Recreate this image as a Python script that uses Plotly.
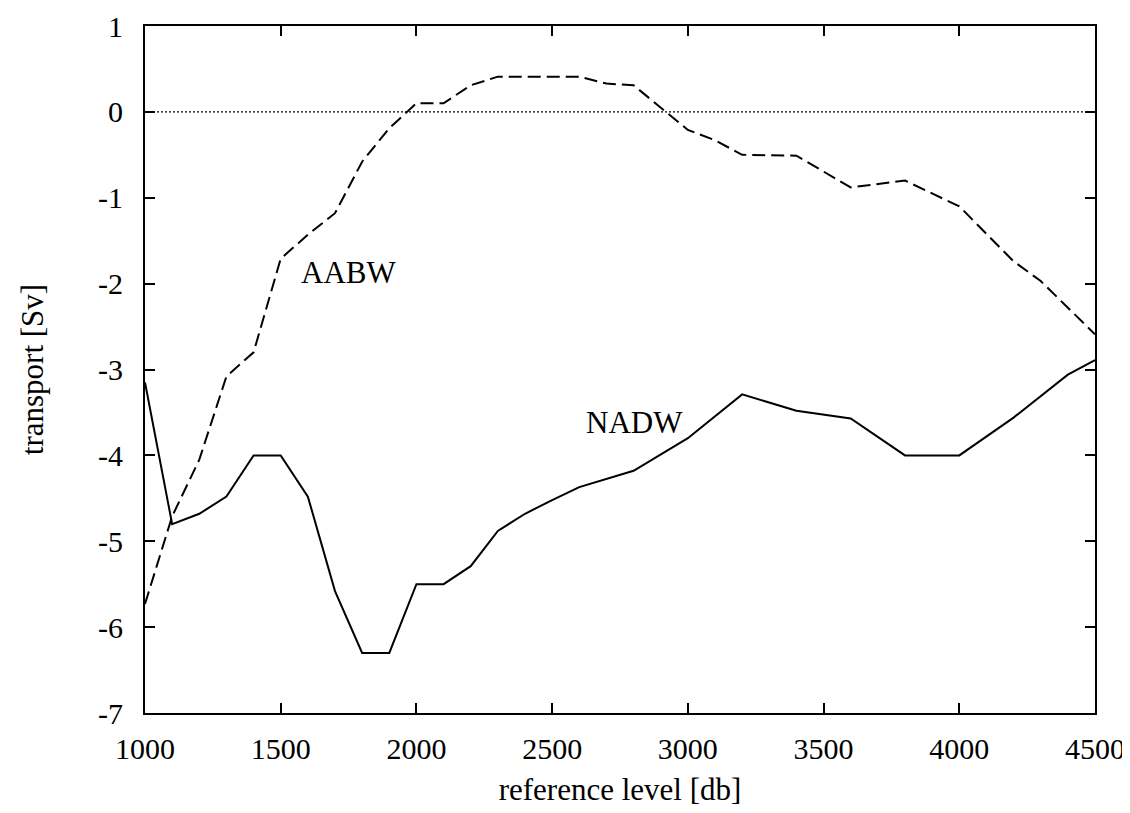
import plotly.graph_objects as go

# NADW (solid) vertices
nadw_x = [1000, 1100, 1200, 1300, 1400, 1500, 1600, 1700, 1800, 1900, 2000, 2100, 2200, 2300,
          2400, 2500, 2600, 2800, 3000, 3200, 3400, 3600, 3800, 4000, 4200, 4400, 4500]
nadw_y = [-3.15, -4.8, -4.68, -4.48, -4.0, -4.0, -4.48, -5.58, -6.3, -6.3, -5.5, -5.5, -5.29, -4.88,
          -4.68, -4.52, -4.37, -4.18, -3.8, -3.29, -3.48, -3.57, -4.0, -4.0, -3.56, -3.06, -2.89]

# AABW (dashed) vertices
aabw_x = [1000, 1100, 1200, 1300, 1400, 1500, 1600, 1700, 1800, 1900, 2000, 2100, 2200, 2300,
          2600, 2700, 2800, 3000, 3100, 3200, 3400, 3600, 3800, 4000, 4200, 4300, 4400, 4500]
aabw_y = [-5.73, -4.71, -4.05, -3.08, -2.8, -1.71, -1.43, -1.18, -0.58, -0.19, 0.1, 0.1, 0.31, 0.41,
          0.41, 0.33, 0.31, -0.21, -0.33, -0.5, -0.51, -0.88, -0.8, -1.1, -1.74, -1.97, -2.28, -2.59]

x_ticks = [1000, 1500, 2000, 2500, 3000, 3500, 4000, 4500]
y_ticks = [1, 0, -1, -2, -3, -4, -5, -6, -7]
y_tick_text = ["1", "0", "-1", "-2", "-3", "-4", "-5", "-6", "-7"]

labels = ["AABW", "NADW"]
label_x = [1748, 2805]
label_y = [-1.87, -3.62]

FONT = "Liberation Serif"

fig = go.Figure()
fig.add_trace(go.Scatter(x=[x_ticks[0], x_ticks[-1]], y=[0, 0], mode="lines",
                         line=dict(color="black", width=1.2, dash="2px,2px"),
                         showlegend=False, hoverinfo="skip"))
fig.add_trace(go.Scatter(x=nadw_x, y=nadw_y, mode="lines", name="NADW",
                         line=dict(color="black", width=2), showlegend=False))
fig.add_trace(go.Scatter(x=aabw_x, y=aabw_y, mode="lines", name="AABW",
                         line=dict(color="black", width=2, dash="13px,6px"), showlegend=False))

for t, lx, ly in zip(labels, label_x, label_y):
    fig.add_annotation(x=lx, y=ly, text=t, showarrow=False,
                       font=dict(family=FONT, size=31, color="black"))

axis_common = dict(showline=True, linecolor="black", linewidth=2, mirror="allticks",
                   ticks="inside", ticklen=10, tickwidth=1.5, tickcolor="black",
                   showgrid=False, zeroline=False, ticklabeloverflow="allow", automargin=False,
                   tickfont=dict(family=FONT, size=30, color="black"))

fig.update_xaxes(range=[1000, 4500], tickvals=x_ticks,
                 title=dict(text="reference level [db]", font=dict(family=FONT, size=31, color="black"),
                            standoff=14),
                 ticklabelstandoff=8, **axis_common)
fig.update_yaxes(range=[-7, 1], tickvals=y_ticks, ticktext=y_tick_text,
                 title=dict(text="transport [Sv]", font=dict(family=FONT, size=31, color="black"),
                            standoff=45),
                 ticklabelstandoff=14, **axis_common)

fig.update_layout(width=1130, height=813, margin=dict(l=137, r=43, t=18, b=108),
                  plot_bgcolor="white", paper_bgcolor="white",
                  font=dict(family=FONT, color="black"))

fig.write_html("out.html")
